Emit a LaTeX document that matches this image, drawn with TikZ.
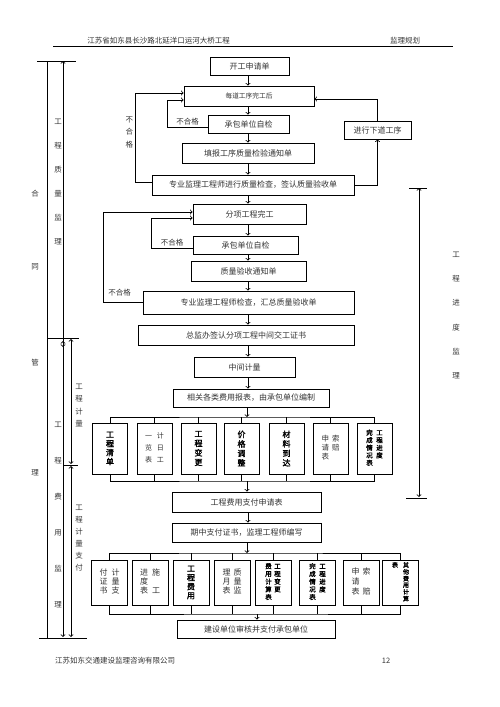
\documentclass[tikz,border=0pt]{standalone}
\usepackage{fontspec}
\setmainfont[AutoFakeBold=2]{Noto Sans CJK SC}
\usepackage{tikz}

\begin{document}
\begin{tikzpicture}[x=1pt,y=-1pt,line width=0.8pt,
    every node/.style={text=black!80},
    box/.style={draw=black,inner sep=0pt,font=\fontsize{8}{9}\selectfont},
    vbox/.style={draw=black,inner sep=0pt,align=center,minimum width=35pt,minimum height=51pt},
    sbox/.style={draw=black,inner sep=0pt,align=center,minimum width=36pt,minimum height=45pt},
    lab/.style={inner sep=1pt,font=\fontsize{7.5}{9}\selectfont},
    vcol/.style={inner sep=0pt,align=center}]
      \useasboundingbox (0,0) rectangle (500,707);

      \node[lab] (ht) at (158.5,41) {江苏省如东县长沙路北延洋口运河大桥工程};
      \node[lab] (hr) at (405,41) {监理规划};
      \draw[line width=0.6pt] (53,46) -- (453,46);

      \node[box,minimum width=79pt,minimum height=18pt] (kg) at (249.5,66) {开工申请单};
      \node[box,minimum width=130pt,minimum height=20pt,font=\fontsize{6.7}{8}\selectfont] (mdg) at (249,96) {每道工序完工后};
      \node[box,minimum width=81pt,minimum height=18pt] (zj1) at (248.5,124) {承包单位自检};
      \node[box,minimum width=132pt,minimum height=20pt] (tb) at (248,153) {填报工序质量检验通知单};
      \node[box,minimum width=202pt,minimum height=20pt] (zy1) at (253,185) {专业监理工程师进行质量检查，签认质量验收单};
      \node[box,minimum width=67pt,minimum height=18pt] (xd) at (377.5,130) {进行下道工序};
      \node[box,minimum width=113pt,minimum height=20pt] (fx) at (249.5,214) {分项工程完工};
      \node[box,minimum width=105pt,minimum height=18pt] (zj2) at (245.5,245) {承包单位自检};
      \node[box,minimum width=115pt,minimum height=20pt] (zlys) at (248.5,271) {质量验收通知单};
      \node[box,minimum width=211pt,minimum height=23pt] (zy2) at (248.5,302.5) {专业监理工程师检查，汇总质量验收单};
      \node[box,minimum width=216pt,minimum height=20pt] (zj) at (246,335) {总监办签认分项工程中间交工证书};
      \node[box,minimum width=101pt,minimum height=20pt] (zjjl) at (244.5,367) {中间计量};
      \node[box,minimum width=156pt,minimum height=18pt] (xg) at (251,398) {相关各类费用报表，由承包单位编制};
      \node[box,minimum width=149pt,minimum height=20pt] (fy) at (246.5,502) {工程费用支付申请表};
      \node[box,minimum width=149pt,minimum height=19pt] (qz) at (246.5,532.5) {期中支付证书，监理工程师编写};
      \node[box,minimum width=158pt,minimum height=18pt] (js) at (256,629) {建设单位审核并支付承包单位};

      \node[vbox,font=\bfseries\fontsize{8}{9}\selectfont,text=black] (r1) at (110,448.5) {工\\程\\清\\单};
      \node[vbox,font=\fontsize{7}{12}\selectfont] (r2) at (154.5,448.5) {\begin{tabular}{@{}c@{\hspace{5pt}}c@{}}一&计\\览&日\\表&工\end{tabular}};
      \node[vbox,font=\bfseries\fontsize{8}{9.5}\selectfont,text=black] (r3) at (198.5,448.5) {工\\程\\变\\更};
      \node[vbox,font=\bfseries\fontsize{8}{9.5}\selectfont,text=black] (r4) at (241.5,448.5) {价\\格\\调\\整};
      \node[vbox,font=\bfseries\fontsize{8}{9.5}\selectfont,text=black] (r5) at (286.5,448.5) {材\\料\\到\\达};
      \node[vbox,font=\fontsize{7.5}{8.5}\selectfont] (r6) at (330.5,448.5) {\begin{tabular}{@{}c@{\hspace{3pt}}c@{}}申&索\\请&赔\\表&\end{tabular}};
      \node[vbox,font=\bfseries\fontsize{6.5}{7}\selectfont,text=black] (r7) at (374.5,448.5) {\begin{tabular}{@{}c@{\hspace{3.5pt}}c@{}}完&工\\成&程\\情&进\\况&度\\表&\end{tabular}};

      \node[sbox,font=\fontsize{8}{9}\selectfont] (s1) at (109.5,582.5) {\begin{tabular}{@{}c@{\hspace{4pt}}c@{}}付&计\\证&量\\书&支\end{tabular}};
      \node[sbox,font=\fontsize{8}{9}\selectfont] (s2) at (150,582.5) {\begin{tabular}{@{}c@{\hspace{4pt}}c@{}}进&施\\度&\\表&工\end{tabular}};
      \node[sbox,font=\bfseries\fontsize{8}{9}\selectfont,text=black] (s3) at (191,582.5) {工\\程\\费\\用};
      \node[sbox,font=\fontsize{8}{9}\selectfont] (s4) at (232,582.5) {\begin{tabular}{@{}c@{\hspace{3pt}}c@{}}理&质\\月&量\\表&监\end{tabular}};
      \node[sbox,font=\bfseries\fontsize{6.5}{7.5}\selectfont,text=black] (s5) at (273,582.5) {\begin{tabular}{@{}c@{\hspace{2.5pt}}c@{}}费&工\\用&程\\计&变\\算&更\\表&\end{tabular}};
      \node[sbox,font=\bfseries\fontsize{6.5}{7.5}\selectfont,text=black] (s6) at (317.5,582.5) {\begin{tabular}{@{}c@{\hspace{3.5pt}}c@{}}完&工\\成&程\\情&进\\况&度\\表&\end{tabular}};
      \node[sbox,font=\fontsize{8}{9.5}\selectfont] (s7) at (361,582.5) {\begin{tabular}{@{}c@{\hspace{3pt}}c@{}}申&索\\请&\\表&赔\end{tabular}};
      \node[sbox,font=\bfseries\fontsize{6}{6}\selectfont,text=black] (s8) at (400.5,582.5) {\begin{tabular}{@{}c@{\hspace{5pt}}c@{}}表&其\\&他\\&费\\&用\\&计\\&算\end{tabular}};

      \coordinate (ax) at (248,0);
      \draw[->] (ax |- kg.south) -- (ax |- mdg.north);
      \draw[->] (ax |- mdg.south) -- (ax |- zj1.north);
      \draw[->] (ax |- zj1.south) -- (ax |- tb.north);
      \draw[->] (ax |- tb.south) -- (ax |- zy1.north);
      \draw[->] (ax |- zy1.south) -- (ax |- fx.north);
      \draw[->] (ax |- fx.south) -- (ax |- zj2.north);
      \draw[->] (ax |- zj2.south) -- (ax |- zlys.north);
      \draw[->] (ax |- zlys.south) -- (ax |- zy2.north);
      \draw[->] (ax |- zy2.south) -- (ax |- zj.north);
      \draw[->] (ax |- zj.south) -- (ax |- zjjl.north);
      \draw[->] (ax |- zjjl.south) -- (ax |- xg.north);

      \draw[->] ([yshift=-3pt]zj1.west) -- node[lab,above] {不合格} ++(-40,0) |- ([yshift=-4pt]mdg.west);
      \draw[->] ([yshift=3pt]zy1.west) -- ++(-16,0) |- node[lab,left,pos=0.28,xshift=-1pt,align=center,font=\fontsize{7.5}{12.5}\selectfont] {不\\合\\格} ([yshift=3pt]mdg.west);
      \draw[->] (zy1.east) -| (xd.south);
      \draw[->] (xd.north) |- ([yshift=-3pt]mdg.east);
      \draw[->] ([yshift=-3pt]zj2.west) -- node[lab,above] {不合格} ++(-41,0) |- ([yshift=-4pt]fx.west);
      \draw[->] (zy2.west) -- node[lab,above=5pt,pos=0.59] {不合格} ++(-39,0) |- ([yshift=2pt]fx.west);

      \coordinate (bt) at (247,417);
      \coordinate (bb) at (247,481);
      \draw[->] (bt |- xg.south) -- (bt);
      \draw (r1.north) |- (bt) -| (r7.north);
      \draw (r2.north) -- (r2.north |- bt) (r3.north) -- (r3.north |- bt) (r4.north) -- (r4.north |- bt)
            (r5.north) -- (r5.north |- bt) (r6.north) -- (r6.north |- bt);
      \draw (r1.south) |- (bb) -| (r7.south);
      \draw (r2.south) -- (r2.south |- bb) (r3.south) -- (r3.south |- bb) (r4.south) -- (r4.south |- bb)
            (r5.south) -- (r5.south |- bb) (r6.south) -- (r6.south |- bb);
      \draw[->] (bb) -- (bb |- fy.north);
      \draw[->] (ax |- fy.south) -- (ax |- qz.north);

      \coordinate (ct) at (247,553);
      \coordinate (cb) at (257,614);
      \draw[->] (ct |- qz.south) -- (ct);
      \draw (s1.north) |- (ct) -| (s8.north);
      \draw (s2.north) -- (s2.north |- ct) (s3.north) -- (s3.north |- ct) (s4.north) -- (s4.north |- ct)
            (s5.north) -- (s5.north |- ct) (s6.north) -- (s6.north |- ct) (s7.north) -- (s7.north |- ct);
      \draw (s1.south) |- (cb) -| (s8.south);
      \draw (s2.south) -- (s2.south |- cb) (s3.south) -- (s3.south |- cb) (s4.south) -- (s4.south |- cb)
            (s5.south) -- (s5.south |- cb) (s6.south) -- (s6.south |- cb) (s7.south) -- (s7.south |- cb);
      \draw[->] (cb) -- (cb |- js.north);

      \draw (37,61) -- (76,61);
      \draw (47,61) -- (47,638);
      \draw (47,338) -- (79,338);
      \draw (63,465) -- (78,465);
      \draw (39,638) -- (87,638);
      \draw[<->] (63,61) -- (63,347);
      \draw[<->] (63,341) -- (63,637);
      \draw[<->] (71,339) -- (71,464);
      \draw[<->] (71,466) -- (71,637);
      \node[vcol,font=\fontsize{7.5}{12}\selectfont] (ht1) at (35,333.5) {合\\[61pt]同\\[84pt]管\\[98pt]理};
      \node[vcol,font=\fontsize{7.5}{24}\selectfont] (zljl) at (58,182) {工\\程\\质\\量\\监\\理};
      \node[vcol,font=\fontsize{7.5}{36}\selectfont] (fyjl) at (58,514.5) {工\\程\\费\\用\\监\\理};
      \node[vcol,font=\fontsize{7.5}{12.3}\selectfont] (gcjl) at (79,405.5) {工\\程\\计\\量};
      \node[vcol,font=\fontsize{7.5}{12}\selectfont] (jlzf) at (79,538) {工\\程\\计\\量\\支\\付};

      \draw (409,188) -- (427,188);
      \draw (406,498) -- (427,498);
      \draw[<->] (419,188) -- (419,497);
      \node[vcol,font=\fontsize{7.5}{24.2}\selectfont] (jdjl) at (456,315.5) {工\\程\\进\\度\\监\\理};

      \node[lab] (ft) at (115,661) {江苏如东交通建设监理咨询有限公司};
      \node[lab] (pg) at (386,661) {12};
\end{tikzpicture}
\end{document}
